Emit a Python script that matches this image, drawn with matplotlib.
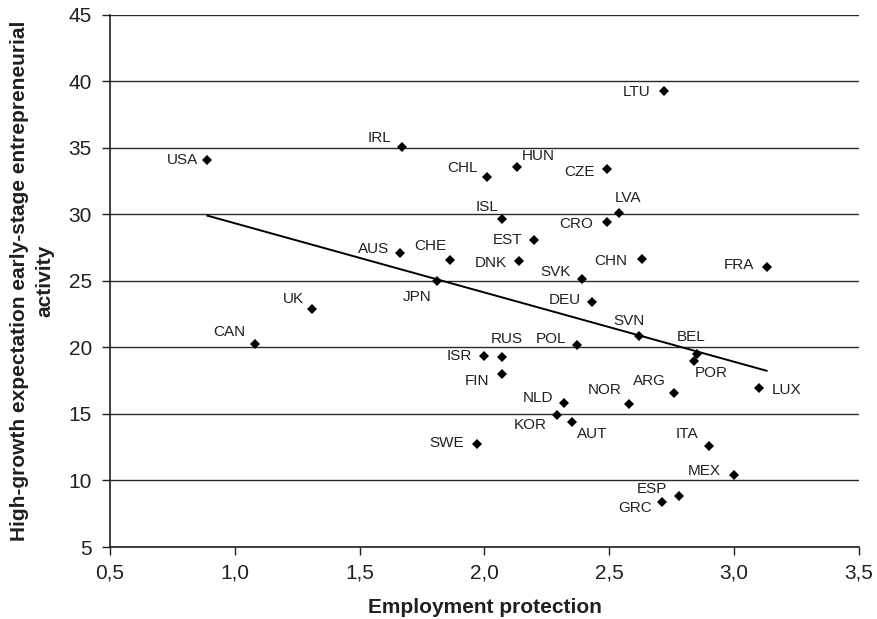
import numpy as np
import matplotlib
matplotlib.use("Agg")
import matplotlib.pyplot as plt

plt.rcParams['font.family'] = ['Liberation Sans', 'DejaVu Sans']

# Datos
countries = ['USA', 'IRL', 'CHL', 'HUN', 'CZE', 'LTU', 'ISL', 'LVA', 'CRO', 'EST',
             'AUS', 'CHE', 'DNK', 'SVK', 'CHN', 'FRA', 'JPN', 'UK', 'DEU', 'CAN',
             'SVN', 'BEL', 'POR', 'POL', 'RUS', 'ISR', 'FIN', 'LUX', 'ARG', 'NOR',
             'NLD', 'KOR', 'AUT', 'SWE', 'ITA', 'MEX', 'ESP', 'GRC']
employment_protection = [0.89, 1.67, 2.01, 2.13, 2.49, 2.72, 2.07, 2.54, 2.49, 2.20,
                         1.66, 1.86, 2.14, 2.39, 2.63, 3.13, 1.81, 1.31, 2.43, 1.08,
                         2.62, 2.85, 2.84, 2.37, 2.07, 2.00, 2.07, 3.10, 2.76, 2.58,
                         2.32, 2.29, 2.35, 1.97, 2.90, 3.00, 2.78, 2.71]
high_growth = [34.1, 35.05, 32.77, 33.57, 33.42, 39.29, 29.64, 30.07, 29.39, 28.06,
               27.06, 26.56, 26.48, 25.13, 26.61, 26.01, 25.0, 22.89, 23.38, 20.24,
               20.84, 19.54, 18.98, 20.17, 19.29, 19.34, 17.98, 16.95, 16.56, 15.71,
               15.83, 14.9, 14.43, 12.72, 12.62, 10.44, 8.86, 8.36]

x_ticks = [0.5, 1.0, 1.5, 2.0, 2.5, 3.0, 3.5]
x_tick_labels = ['0,5', '1,0', '1,5', '2,0', '2,5', '3,0', '3,5']
y_ticks = [5, 10, 15, 20, 25, 30, 35, 40, 45]

# Desplazamiento de las etiquetas (pixeles)
label_offsets = {
    'USA': (-25, 0), 'IRL': (-23, 9), 'CHL': (-24, 9), 'HUN': (21, 11),
    'CZE': (-27, -3), 'LTU': (-28, -1), 'ISL': (-15, 12), 'LVA': (9, 15),
    'CRO': (-31, -2), 'EST': (-27, 0), 'AUS': (-26, 4), 'CHE': (-19, 14),
    'DNK': (-29, -2), 'SVK': (-26, 7), 'CHN': (-31, -2), 'FRA': (-28, 2),
    'JPN': (-20, -16), 'UK': (-19, 10), 'DEU': (-27, 2), 'CAN': (-25, 12),
    'SVN': (-10, 15), 'BEL': (-6, 17), 'POR': (17, -12), 'POL': (-26, 6),
    'RUS': (5, 18), 'ISR': (-25, 0), 'FIN': (-25, -7), 'LUX': (27, -2),
    'ARG': (-25, 12), 'NOR': (-25, 14), 'NLD': (-26, 5), 'KOR': (-27, -10),
    'AUT': (20, -12), 'SWE': (-30, 1), 'ITA': (-22, 12), 'MEX': (-30, 4),
    'ESP': (-27, 7), 'GRC': (-27, -6),
}

x = np.array(employment_protection)
y = np.array(high_growth)

fig = plt.figure(figsize=(8.78, 6.19), dpi=100)
ax = fig.add_axes([0.1253, 0.1163, 0.853, 0.86])

ax.yaxis.grid(True, color='#2a2a2a', linewidth=1.0)
ax.set_axisbelow(True)

ax.plot(x, y, linestyle='none', marker='D', markersize=5.2,
        color='black', markeredgewidth=0, zorder=3)

# Recta de regresión
slope, intercept = np.polyfit(x, y, 1)
xl = np.array([x.min(), x.max()])
ax.plot(xl, intercept + slope * xl, color='black', linewidth=1.4, zorder=2)

for name, xi, yi in zip(countries, x, y):
    ax.annotate(name, (xi, yi), xytext=label_offsets[name],
                textcoords='offset pixels', ha='center', va='center',
                fontsize=11, color='#231f20')

ax.set_xlim(0.5, 3.5)
ax.set_ylim(5, 45)
ax.set_xticks(x_ticks)
ax.set_xticklabels(x_tick_labels)
ax.set_yticks(y_ticks)
ax.tick_params(axis='both', labelsize=15, colors='#231f20', length=6,
               direction='out', width=1)
ax.tick_params(axis='y', pad=7)
ax.tick_params(axis='x', pad=6)

for s in ['top', 'right']:
    ax.spines[s].set_visible(False)
for s in ['left', 'bottom']:
    ax.spines[s].set_color('#231f20')
    ax.spines[s].set_linewidth(1.2)

ax.set_xlabel('Employment protection', fontsize=15, fontweight='bold',
              labelpad=11, color='#231f20')
ax.set_ylabel('High-growth expectation early-stage entrepreneurial\nactivity',
              fontsize=15, fontweight='bold', labelpad=10, linespacing=1.45,
              color='#231f20')

fig.savefig('out.png', dpi=100)
